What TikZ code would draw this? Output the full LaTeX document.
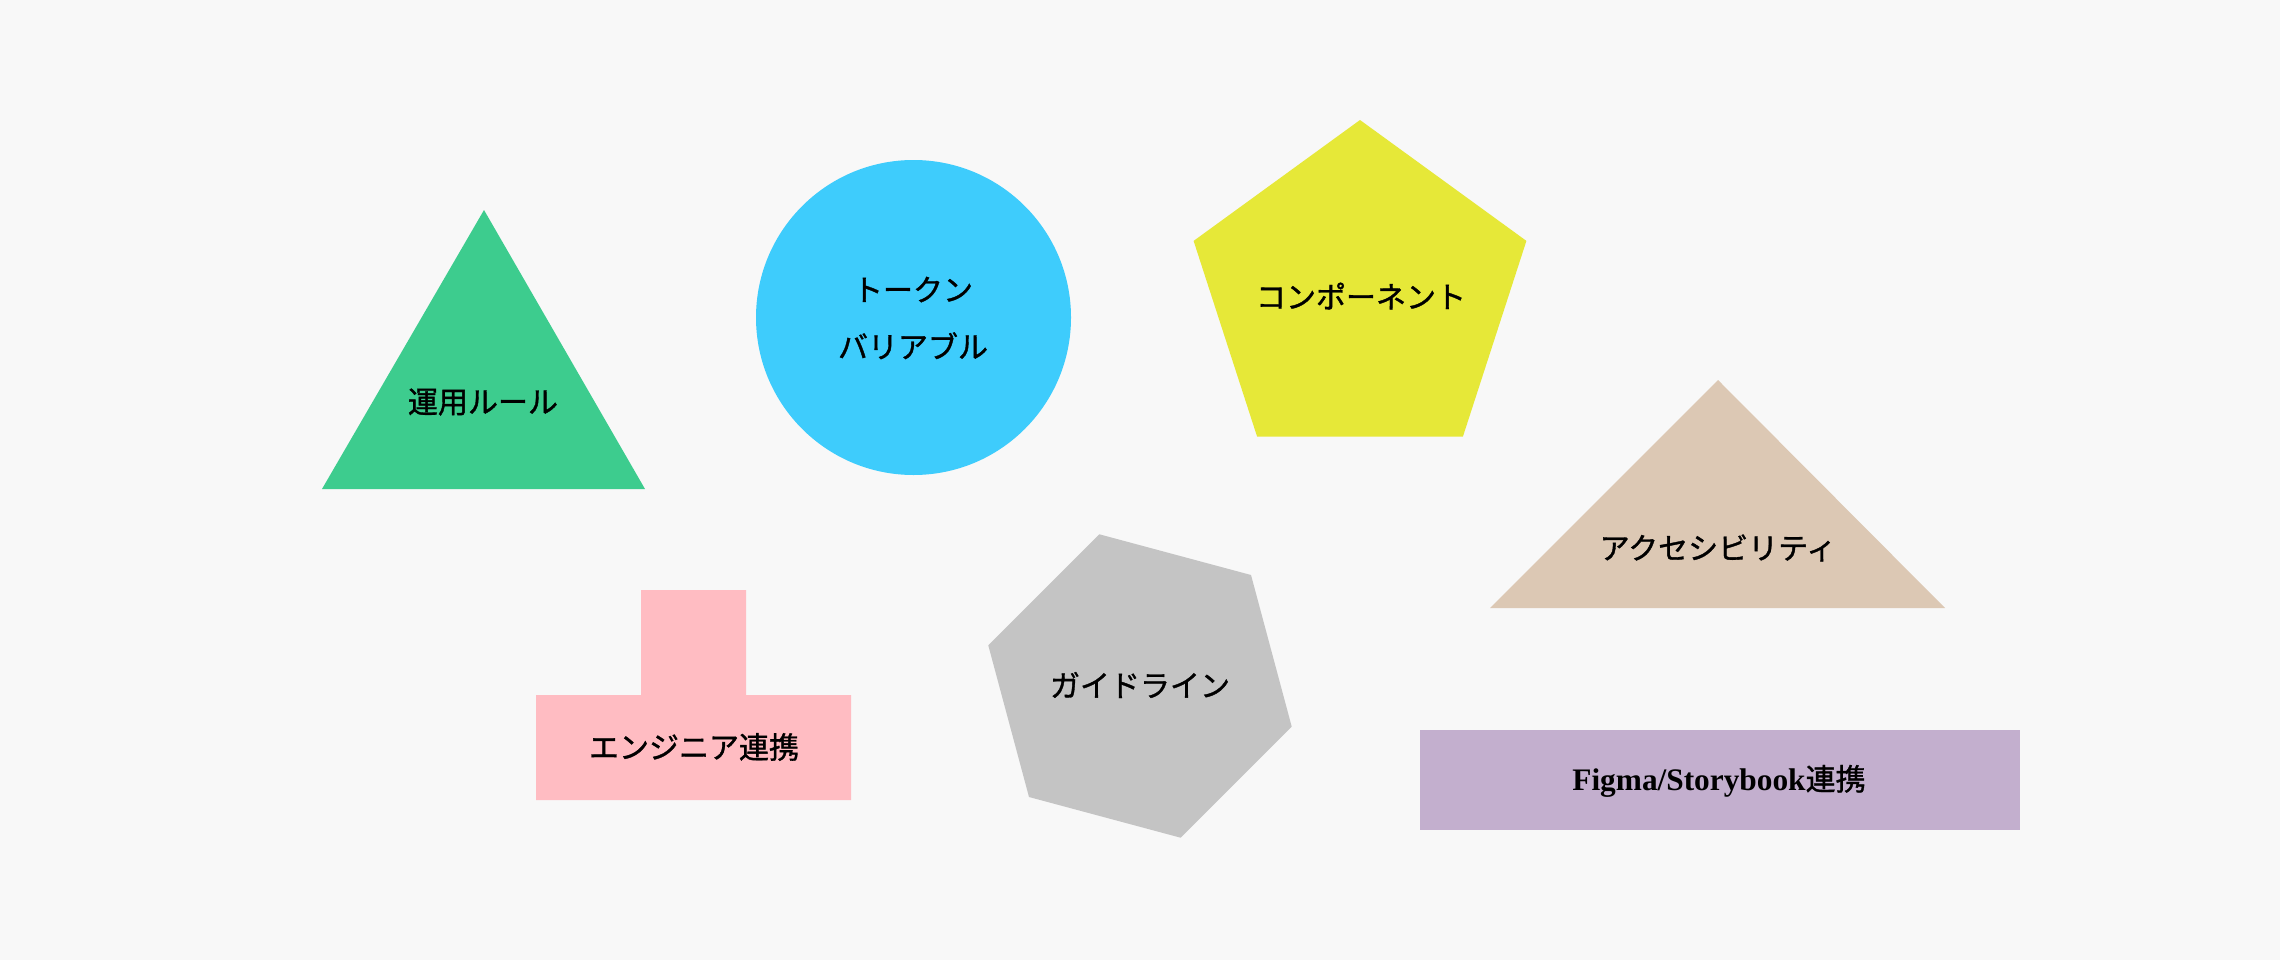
\documentclass[tikz,border=0pt]{standalone}
\usepackage{fontspec}
\setmainfont{Liberation Serif}
\newfontfamily\cjk[FakeBold=1.2]{Noto Sans CJK JP}
\definecolor{bgc}{HTML}{F8F8F8}
\definecolor{greenc}{HTML}{3DCC8E}
\definecolor{bluec}{HTML}{3ECCFC}
\definecolor{yellowc}{HTML}{E6E838}
\definecolor{beigec}{HTML}{DCC8B4}
\definecolor{pinkc}{HTML}{FFBCC2}
\definecolor{grayc}{HTML}{C4C4C4}
\definecolor{purplec}{HTML}{C3AFCE}
\begin{document}
\begin{tikzpicture}[x=0.75pt,y=-0.75pt,
  lbl/.style={font=\cjk\fontsize{22.5}{42.75}\selectfont, text=black, align=center, inner sep=0pt}]
\fill[bgc] (0,0) rectangle (2280,960);
\useasboundingbox (0,0) rectangle (2280,960);
% shapes
\fill[greenc] (484,210) -- (322,489) -- (645,489) -- cycle;
\fill[bluec] (913.5,317.5) circle [radius=118.125pt];
\fill[yellowc] (1360,120) -- (1526.4,240.9) -- (1462.9,436.6) -- (1257.1,436.6) -- (1193.6,240.9) -- cycle;
\fill[beigec] (1718,380) -- (1945,608) -- (1490,608) -- cycle;
\fill[pinkc] (641,590) -- (746,590) -- (746,695) -- (851,695) -- (851,800) -- (536,800) -- (536,695) -- (641,695) -- cycle;
\fill[grayc] (1099.4,534.3) -- (1251.0,575.0) -- (1291.7,726.6) -- (1180.6,837.7) -- (1029.0,797.0) -- (988.3,645.4) -- cycle;
\fill[purplec] (1420,730) rectangle (2020,830);
% labels
\node[lbl] (t1) at (483,402) {運用ルール};
\node[lbl] (t2) at (913,318) {トークン\\バリアブル};
\node[lbl] (t3) at (1361,296) {コンポーネント};
\node[lbl] (t4) at (1718,548) {アクセシビリティ};
\node[lbl] (t5) at (694,747) {エンジニア連携};
\node[lbl] (t6) at (1140,685) {ガイドライン};
\node[lbl] (t7) at (1719,781) {{\rmfamily\bfseries\fontsize{23.5}{28}\selectfont Figma/Storybook}連携};
\end{tikzpicture}
\end{document}
